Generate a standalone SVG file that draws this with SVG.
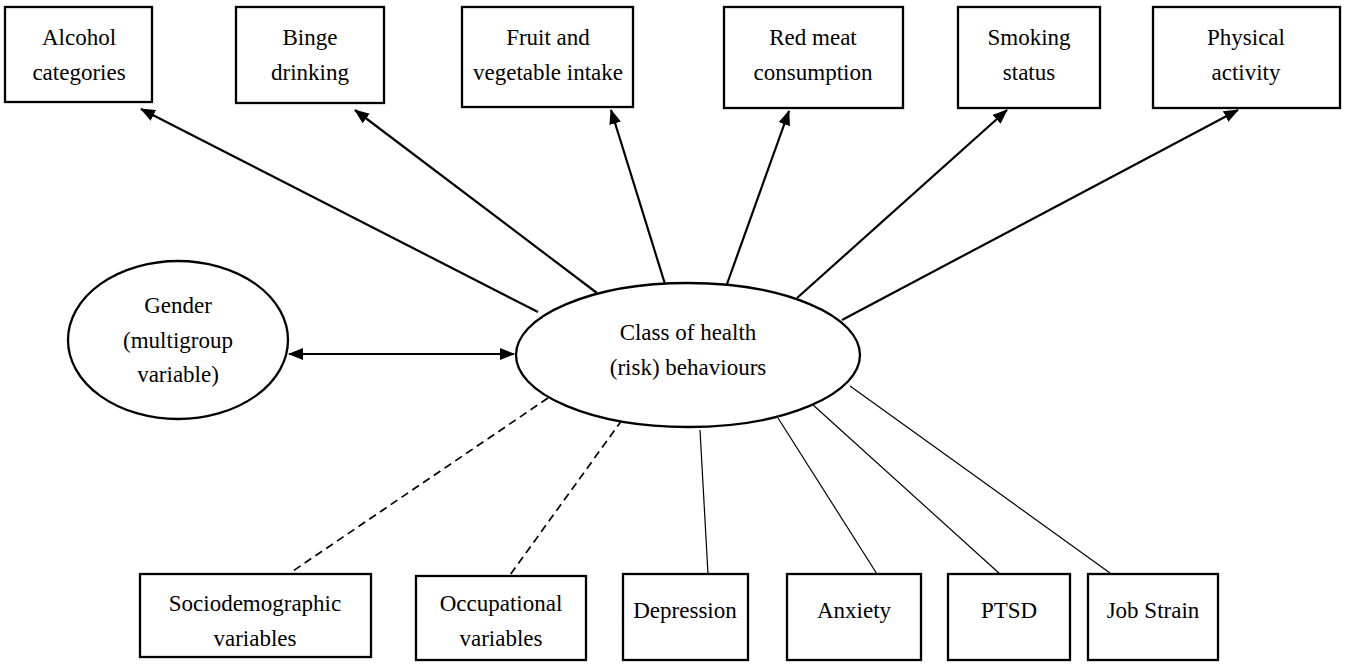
<svg xmlns="http://www.w3.org/2000/svg" width="1345" height="664" viewBox="0 0 1345 664">
<style>
.box{fill:#fff;stroke:#000;stroke-width:2.3}
.ell{fill:#fff;stroke:#000;stroke-width:2.3}
.arr{stroke:#000;stroke-width:2.2;fill:none;marker-end:url(#ah)}
.dbl{stroke:#000;stroke-width:2.2;fill:none;marker-end:url(#ah);marker-start:url(#ahs)}
.thin{stroke:#000;stroke-width:1.2;fill:none}
.dash{stroke:#000;stroke-width:1.7;fill:none;stroke-dasharray:8,5}
</style>
<defs>
<marker id="ah" viewBox="0 0 15 12" refX="14" refY="6" markerWidth="15" markerHeight="12" markerUnits="userSpaceOnUse" orient="auto"><path d="M0,0 L15,6 L0,12 z" fill="#000"/></marker>
<marker id="ahs" viewBox="0 0 15 12" refX="1" refY="6" markerWidth="15" markerHeight="12" markerUnits="userSpaceOnUse" orient="auto"><path d="M15,0 L0,6 L15,12 z" fill="#000"/></marker>
</defs>
<rect width="1345" height="664" fill="#fff"/>
<g id="connectors">
<line class="arr" x1="538" y1="312" x2="141" y2="109"/>
<line class="arr" x1="597" y1="293" x2="355" y2="110"/>
<line class="arr" x1="665" y1="284" x2="611" y2="110"/>
<line class="arr" x1="727" y1="284" x2="789" y2="111"/>
<line class="arr" x1="797" y1="298" x2="1007" y2="110"/>
<line class="arr" x1="842" y1="320" x2="1238" y2="110"/>
<line class="dbl" x1="289" y1="354" x2="514" y2="354"/>
<line class="dash" x1="548" y1="398" x2="290" y2="573"/>
<line class="dash" x1="622" y1="420" x2="510" y2="575"/>
<line class="thin" x1="700" y1="430" x2="708" y2="574"/>
<line class="thin" x1="778" y1="418" x2="877" y2="574"/>
<line class="thin" x1="812" y1="404" x2="1000" y2="574"/>
<line class="thin" x1="850" y1="386" x2="1110" y2="573"/>
</g>
<g font-family="Liberation Serif" font-size="23" text-anchor="middle" fill="#000">
<g id="alcohol"><rect class="box" x="5" y="7" width="147" height="95"/><text x="79" y="45">Alcohol</text><text x="79" y="80">categories</text></g>
<g id="binge"><rect class="box" x="236" y="7" width="148" height="96"/><text x="310" y="45">Binge</text><text x="310" y="80">drinking</text></g>
<g id="fruit"><rect class="box" x="462" y="7" width="171" height="100"/><text x="548" y="45">Fruit and</text><text x="548" y="80">vegetable intake</text></g>
<g id="redmeat"><rect class="box" x="724" y="7" width="179" height="101"/><text x="813" y="45">Red meat</text><text x="813" y="80">consumption</text></g>
<g id="smoking"><rect class="box" x="958" y="7" width="142" height="101"/><text x="1029" y="45">Smoking</text><text x="1029" y="80">status</text></g>
<g id="physical"><rect class="box" x="1153" y="7" width="187" height="101"/><text x="1246" y="45">Physical</text><text x="1246" y="80">activity</text></g>
<g id="gender"><ellipse class="ell" cx="178" cy="340" rx="110" ry="79"/><text x="178" y="313">Gender</text><text x="178" y="348">(multigroup</text><text x="178" y="382">variable)</text></g>
<g id="class"><ellipse class="ell" cx="688" cy="355" rx="172" ry="72"/><text x="688" y="340">Class of health</text><text x="688" y="375">(risk) behaviours</text></g>
<g id="socio"><rect class="box" x="140" y="574" width="231" height="83"/><text x="255" y="611">Sociodemographic</text><text x="255" y="646">variables</text></g>
<g id="occup"><rect class="box" x="416" y="576" width="170" height="84"/><text x="501" y="611">Occupational</text><text x="501" y="646">variables</text></g>
<g id="depression"><rect class="box" x="623" y="574" width="125" height="86"/><text x="685" y="618">Depression</text></g>
<g id="anxiety"><rect class="box" x="787" y="574" width="134" height="86"/><text x="854" y="618">Anxiety</text></g>
<g id="ptsd"><rect class="box" x="948" y="574" width="122" height="86"/><text x="1009" y="618">PTSD</text></g>
<g id="jobstrain"><rect class="box" x="1088" y="574" width="130" height="86"/><text x="1153" y="618">Job Strain</text></g>
</g>
</svg>
